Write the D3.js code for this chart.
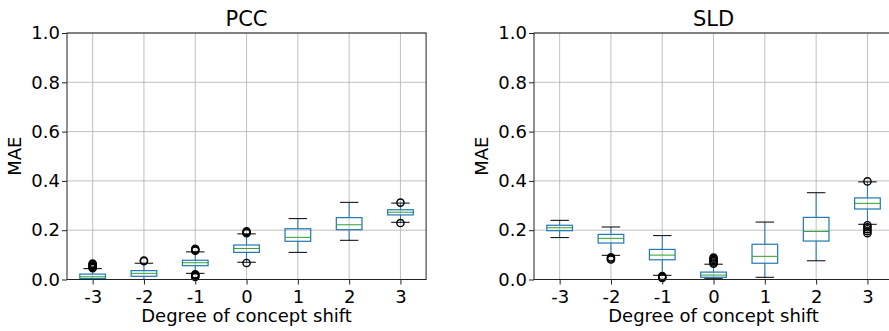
<!DOCTYPE html>
<html>
<head>
<meta charset="utf-8">
<script src="https://cdn.jsdelivr.net/npm/d3@7"></script>
<style>
  body { margin: 0; background: #fff; }
  svg { font-family: "DejaVu Sans", sans-serif; }
</style>
</head>
<body>
<div id="chart"></div>
<script>
// categories on the x axis
let shifts = ["-3", "-2", "-1", "0", "1", "2", "3"];
let y_ticks = [0, 0.2, 0.4, 0.6, 0.8, 1.0];

// box stats per shift: [lower whisker, q1, median, q3, upper whisker]
let pcc_stats = [
  [0.000, 0.004, 0.011, 0.022, 0.044],
  [0.000, 0.013, 0.025, 0.036, 0.066],
  [0.025, 0.056, 0.068, 0.078, 0.112],
  [0.070, 0.110, 0.126, 0.140, 0.185],
  [0.110, 0.155, 0.171, 0.206, 0.247],
  [0.159, 0.202, 0.222, 0.251, 0.313],
  [0.232, 0.262, 0.273, 0.283, 0.310]
];
let pcc_fliers = [
  [0.046, 0.050, 0.054, 0.058, 0.062, 0.065],
  [0.074, 0.077],
  [0.117, 0.121, 0.125, 0.010, 0.014, 0.018, 0.021],
  [0.188, 0.192, 0.196, 0.067],
  [],
  [],
  [0.312, 0.229]
];

let sld_stats = [
  [0.170, 0.198, 0.210, 0.220, 0.240],
  [0.098, 0.148, 0.167, 0.183, 0.213],
  [0.017, 0.080, 0.099, 0.122, 0.178],
  [0.005, 0.009, 0.018, 0.030, 0.062],
  [0.009, 0.066, 0.094, 0.143, 0.233],
  [0.076, 0.156, 0.195, 0.252, 0.352],
  [0.224, 0.286, 0.309, 0.331, 0.396]
];
let sld_fliers = [
  [],
  [0.081, 0.085, 0.090],
  [0.006, 0.010, 0.014],
  [0.064, 0.069, 0.074, 0.079, 0.084, 0.089],
  [],
  [],
  [0.398, 0.220, 0.212, 0.204, 0.196, 0.188]
];

let W = 889, H = 331;
let svg = d3.select("#chart").append("svg")
  .attr("width", W).attr("height", H);

function draw_panel(left, title, stats, fliers)
{
  let top = 33, bottom = 279.5;
  let step = 51.3;
  let right = left + step * 7;

  let x = d3.scaleLinear().domain([0.5, 7.5]).range([left, right]);
  let y = d3.scaleLinear().domain([0, 1]).range([bottom, top]);

  let g = svg.append("g");

  // grid
  g.selectAll(".gx").data(shifts).enter().append("line")
    .attr("x1", (d, i) => x(i + 1)).attr("x2", (d, i) => x(i + 1))
    .attr("y1", top).attr("y2", bottom)
    .attr("stroke", "#b0b0b0").attr("stroke-width", 0.8);
  g.selectAll(".gy").data(y_ticks).enter().append("line")
    .attr("x1", left).attr("x2", right)
    .attr("y1", d => y(d)).attr("y2", d => y(d))
    .attr("stroke", "#b0b0b0").attr("stroke-width", 0.8);

  let boxW = step * 0.5;
  let capW = step * 0.36;

  stats.forEach(function (s, i) {
    let cx = x(i + 1);
    // whiskers
    g.append("line").attr("x1", cx).attr("x2", cx)
      .attr("y1", y(s[0])).attr("y2", y(s[1]))
      .attr("stroke", "#1f77b4").attr("stroke-width", 1);
    g.append("line").attr("x1", cx).attr("x2", cx)
      .attr("y1", y(s[3])).attr("y2", y(s[4]))
      .attr("stroke", "#1f77b4").attr("stroke-width", 1);
    // caps
    [s[0], s[4]].forEach(function (v) {
      g.append("line").attr("x1", cx - capW / 2).attr("x2", cx + capW / 2)
        .attr("y1", y(v)).attr("y2", y(v))
        .attr("stroke", "#000").attr("stroke-width", 1);
    });
    // box
    g.append("rect")
      .attr("x", cx - boxW / 2).attr("width", boxW)
      .attr("y", y(s[3])).attr("height", y(s[1]) - y(s[3]))
      .attr("fill", "none").attr("stroke", "#1f77b4").attr("stroke-width", 1.2);
    // median
    g.append("line").attr("x1", cx - boxW / 2).attr("x2", cx + boxW / 2)
      .attr("y1", y(s[2])).attr("y2", y(s[2]))
      .attr("stroke", "#2ca02c").attr("stroke-width", 1);
    // fliers
    g.selectAll(null).data(fliers[i]).enter().append("circle")
      .attr("cx", cx).attr("cy", d => y(d)).attr("r", 3.6)
      .attr("fill", "none").attr("stroke", "#000").attr("stroke-width", 1.4);
  });

  // spines
  g.append("rect")
    .attr("x", left).attr("y", top)
    .attr("width", right - left).attr("height", bottom - top)
    .attr("fill", "none").attr("stroke", "#222").attr("stroke-width", 1);

  // axes
  let x_axis = d3.axisBottom(x).tickValues(d3.range(1, 8))
    .tickFormat((d) => shifts[d - 1]).tickSize(5).tickSizeOuter(0);
  let gx = g.append("g").attr("transform", "translate(0," + bottom + ")").call(x_axis);
  let y_axis = d3.axisLeft(y).tickValues(y_ticks)
    .tickFormat(d3.format(".1f")).tickSize(5).tickSizeOuter(0);
  let gy = g.append("g").attr("transform", "translate(" + left + ",0)").call(y_axis);
  [gx, gy].forEach(function (a) {
    a.select(".domain").remove();
    a.selectAll("line").attr("stroke", "#222");
    a.selectAll("text").attr("font-family", "DejaVu Sans").attr("font-size", 18).attr("fill", "#000");
  });
  gx.selectAll("text").attr("dy", "0.95em").attr("y", 6);
  gy.selectAll("text").attr("x", -7);

  // labels
  g.append("text").attr("x", (left + right) / 2).attr("y", 26)
    .attr("text-anchor", "middle").attr("font-size", 21).text(title);
  g.append("text").attr("x", (left + right) / 2).attr("y", 322)
    .attr("text-anchor", "middle").attr("font-size", 18).text("Degree of concept shift");
  g.append("text")
    .attr("transform", "translate(" + (left - 46) + "," + ((top + bottom) / 2) + ") rotate(-90)")
    .attr("text-anchor", "middle").attr("font-size", 18).text("MAE");
}

draw_panel(67, "PCC", pcc_stats, pcc_fliers);
draw_panel(534, "SLD", sld_stats, sld_fliers);
</script>
</body>
</html>
